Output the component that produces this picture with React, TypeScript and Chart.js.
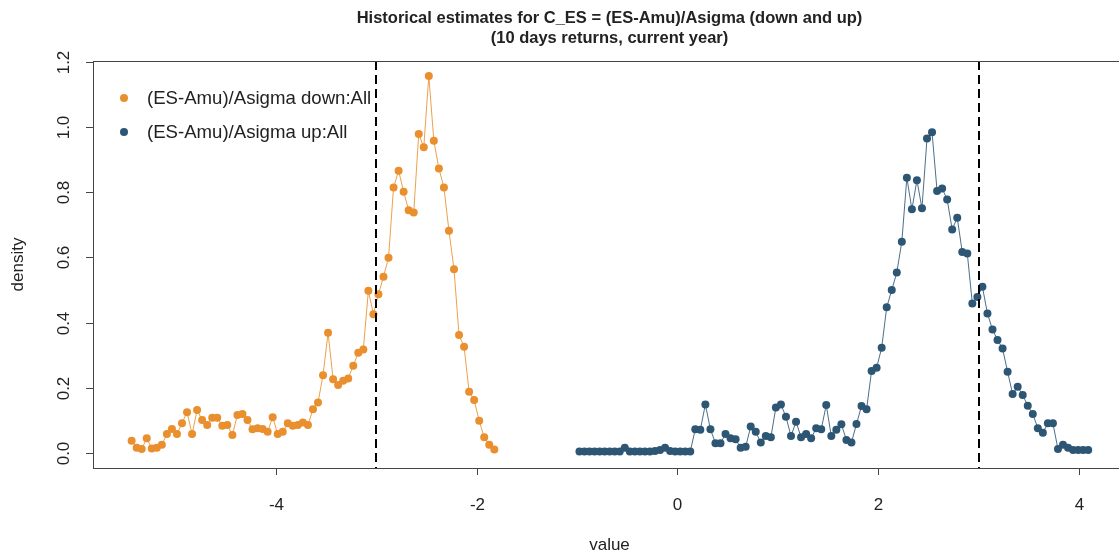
import { useEffect, useRef } from "react";
import { Chart, registerables } from "chart.js";

Chart.register(...registerables);

// ---- data ----
const TITLE_LINES = [
  "Historical estimates for C_ES = (ES-Amu)/Asigma (down and up)",
  "(10 days returns, current year)",
];
const X_TITLE = "value";
const Y_TITLE = "density";
const X_TICKS = [-4, -2, 0, 2, 4];
const Y_TICKS = [0, 0.2, 0.4, 0.6, 0.8, 1.0, 1.2];
const Y_TICK_LABELS = ["0.0", "0.2", "0.4", "0.6", "0.8", "1.0", "1.2"];
const REF_LINES = [-3, 3];

const DOWN_LABEL = "(ES-Amu)/Asigma down:All";
const DOWN_X_START = -5.44;
const DOWN_X_STEP = 0.0502;
const DOWN_Y = [
  0.038, 0.016, 0.012, 0.045, 0.014, 0.016, 0.025, 0.058, 0.074, 0.058,
  0.091, 0.125, 0.058, 0.132, 0.101, 0.086, 0.108, 0.108, 0.084, 0.086,
  0.055, 0.117, 0.120, 0.101, 0.073, 0.076, 0.074, 0.065, 0.110, 0.058,
  0.065, 0.091, 0.084, 0.086, 0.094, 0.086, 0.134, 0.155, 0.239, 0.369,
  0.226, 0.209, 0.222, 0.229, 0.268, 0.308, 0.318, 0.498, 0.426, 0.487,
  0.541, 0.599, 0.815, 0.866, 0.802, 0.745, 0.738, 0.979, 0.938, 1.157,
  0.958, 0.873, 0.815, 0.682, 0.564, 0.362, 0.326, 0.188, 0.163, 0.099,
  0.048, 0.025, 0.011,
];

const UP_LABEL = "(ES-Amu)/Asigma up:All";
const UP_X_START = -0.977;
const UP_X_STEP = 0.0502;
const UP_Y = [
  0.005, 0.005, 0.005, 0.005, 0.005, 0.005, 0.005, 0.005, 0.005, 0.016,
  0.005, 0.005, 0.005, 0.005, 0.005, 0.006, 0.009, 0.016, 0.006, 0.005,
  0.005, 0.005, 0.005, 0.073, 0.071, 0.149, 0.073, 0.030, 0.030, 0.058,
  0.045, 0.042, 0.016, 0.019, 0.081, 0.065, 0.032, 0.052, 0.048, 0.140,
  0.149, 0.111, 0.052, 0.096, 0.048, 0.058, 0.045, 0.076, 0.073, 0.147,
  0.052, 0.071, 0.088, 0.040, 0.032, 0.089, 0.144, 0.134, 0.252, 0.262,
  0.323, 0.447, 0.500, 0.554, 0.648, 0.845, 0.748, 0.837, 0.751, 0.965,
  0.984, 0.804, 0.812, 0.778, 0.686, 0.722, 0.617, 0.612, 0.459, 0.479,
  0.510, 0.428, 0.379, 0.347, 0.321, 0.249, 0.181, 0.203, 0.178, 0.145,
  0.120, 0.076, 0.062, 0.091, 0.091, 0.012, 0.025, 0.016, 0.009, 0.009,
  0.009, 0.009,
];

const ORANGE = "#E98F2E";
const BLUE = "#2D5674";
const ORANGE_LINE = "rgba(233,143,46,0.85)";
const BLUE_LINE = "rgba(45,86,116,0.85)";
const FONT = "'Liberation Sans', Arial, sans-serif";

const X_MIN = -5.825;
const X_MAX = 4.47;
const Y_MIN = -0.046;
const Y_MAX = 1.203;

function toPoints(start: number, step: number, ys: number[]) {
  return ys.map((y, i) => ({ x: start + step * i, y }));
}

const decorPlugin = {
  id: "decor",
  afterDatasetsDraw(chart: any) {
    const { ctx, chartArea, scales } = chart;
    const { left, right, top, bottom } = chartArea;
    const xs = scales.x;
    const ys = scales.y;
    ctx.save();

    // reference dashed lines
    ctx.strokeStyle = "#000";
    ctx.lineWidth = 2;
    ctx.setLineDash([9, 5]);
    REF_LINES.forEach((v) => {
      const px = Math.round(xs.getPixelForValue(v));
      ctx.beginPath();
      ctx.moveTo(px, top);
      ctx.lineTo(px, bottom);
      ctx.stroke();
    });
    ctx.setLineDash([]);

    // box
    ctx.strokeStyle = "#444";
    ctx.lineWidth = 1;
    ctx.strokeRect(left + 0.5, top + 0.5, right - left, bottom - top);

    // x ticks
    ctx.fillStyle = "#222";
    ctx.font = `17px ${FONT}`;
    ctx.textAlign = "center";
    ctx.textBaseline = "middle";
    X_TICKS.forEach((t) => {
      const px = Math.round(xs.getPixelForValue(t)) + 0.5;
      ctx.beginPath();
      ctx.moveTo(px, bottom);
      ctx.lineTo(px, bottom + 7);
      ctx.stroke();
      ctx.fillText(String(t), px, 505);
    });

    // y ticks
    Y_TICKS.forEach((t, i) => {
      const py = Math.round(ys.getPixelForValue(t)) + 0.5;
      ctx.beginPath();
      ctx.moveTo(left, py);
      ctx.lineTo(left - 7, py);
      ctx.stroke();
      ctx.save();
      ctx.translate(64, py);
      ctx.rotate(-Math.PI / 2);
      ctx.fillText(Y_TICK_LABELS[i], 0, 0);
      ctx.restore();
    });

    // axis titles
    ctx.fillText(X_TITLE, (left + right) / 2, 545);
    ctx.save();
    ctx.translate(18, (top + bottom) / 2);
    ctx.rotate(-Math.PI / 2);
    ctx.fillText(Y_TITLE, 0, 0);
    ctx.restore();

    // title
    ctx.font = `bold 16.5px ${FONT}`;
    ctx.fillText(TITLE_LINES[0], (left + right) / 2, 18);
    ctx.fillText(TITLE_LINES[1], (left + right) / 2, 38);

    // legend
    ctx.font = `18.6px ${FONT}`;
    ctx.textAlign = "left";
    const items = [
      { label: DOWN_LABEL, color: ORANGE, y: 98 },
      { label: UP_LABEL, color: BLUE, y: 132 },
    ];
    items.forEach((it) => {
      ctx.fillStyle = it.color;
      ctx.beginPath();
      ctx.arc(124, it.y, 4, 0, Math.PI * 2);
      ctx.fill();
      ctx.fillStyle = "#222";
      ctx.fillText(it.label, 147, it.y + 1);
    });

    ctx.restore();
  },
};

export default function App() {
  const ref = useRef<HTMLCanvasElement | null>(null);

  useEffect(() => {
    if (!ref.current) return;
    const chart = new Chart(ref.current, {
      type: "scatter",
      data: {
        datasets: [
          {
            label: DOWN_LABEL,
            data: toPoints(DOWN_X_START, DOWN_X_STEP, DOWN_Y),
            showLine: true,
            borderColor: ORANGE_LINE,
            backgroundColor: ORANGE,
            borderWidth: 1,
            pointRadius: 4,
            pointBorderWidth: 0,
            pointHoverRadius: 4,
          },
          {
            label: UP_LABEL,
            data: toPoints(UP_X_START, UP_X_STEP, UP_Y),
            showLine: true,
            borderColor: BLUE_LINE,
            backgroundColor: BLUE,
            borderWidth: 1,
            pointRadius: 4,
            pointBorderWidth: 0,
            pointHoverRadius: 4,
          },
        ],
      },
      options: {
        responsive: false,
        animation: false,
        devicePixelRatio: 1,
        layout: { padding: { left: 93, top: 61, right: 9, bottom: 87 } },
        scales: {
          x: { type: "linear", min: X_MIN, max: X_MAX, display: false },
          y: { type: "linear", min: Y_MIN, max: Y_MAX, display: false },
        },
        plugins: {
          legend: { display: false },
          title: { display: false },
          tooltip: { enabled: false },
        },
        events: [],
      },
      plugins: [decorPlugin],
    });
    return () => chart.destroy();
  }, []);

  return (
    <div
      style={{
        position: "fixed",
        left: 0,
        top: 0,
        width: 1119,
        height: 555,
        overflow: "hidden",
        background: "#fff",
      }}
    >
      <canvas ref={ref} width={1135} height={555} style={{ display: "block" }} />
    </div>
  );
}
